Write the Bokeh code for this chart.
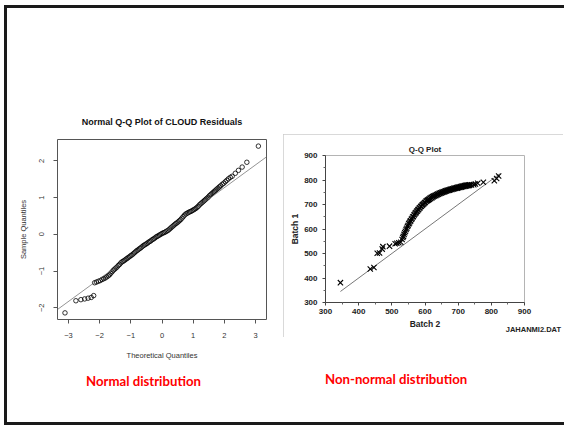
from bokeh.plotting import figure
from bokeh.models import FixedTicker, Slope, Div, Spacer
from bokeh.layouts import column, row
from bokeh.embed import file_html
from bokeh.resources import INLINE

# ---------------- Left chart: Normal Q-Q plot of CLOUD residuals ----------------
normal_theoretical = [
    -3.11, -2.76, -2.60, -2.48, -2.37, -2.27, -2.19,
    -2.16, -2.10, -2.04, -1.98, -1.92, -1.87, -1.82, -1.77, -1.72, -1.68,
    -1.64, -1.60, -1.56, -1.52, -1.48, -1.44, -1.40, -1.36, -1.32, -1.28,
    -1.24, -1.20, -1.16, -1.12, -1.08, -1.04, -1.00, -0.96, -0.92, -0.88,
    -0.84, -0.80, -0.76, -0.72, -0.68, -0.64, -0.60, -0.56, -0.52, -0.48,
    -0.44, -0.40, -0.36, -0.32, -0.28, -0.24, -0.20, -0.16, -0.12, -0.08,
    -0.04, 0.00, 0.04, 0.08, 0.12, 0.16, 0.20, 0.24, 0.28, 0.32, 0.36,
    0.40, 0.44, 0.48, 0.52, 0.56, 0.60, 0.64, 0.68, 0.72, 0.76, 0.80,
    0.84, 0.88, 0.92, 0.96, 1.00, 1.04, 1.08, 1.12, 1.16, 1.20, 1.24,
    1.28, 1.32, 1.36, 1.40, 1.44, 1.48, 1.52, 1.56, 1.60, 1.64, 1.68,
    1.72, 1.76, 1.80, 1.84, 1.88, 1.93, 1.98,
    2.03, 2.08, 2.13, 2.19, 2.25, 2.35, 2.45, 2.57, 2.72, 3.09,
]
normal_sample = [
    -2.14, -1.81, -1.78, -1.76, -1.74, -1.72, -1.67,
    -1.32, -1.30, -1.28, -1.26, -1.23, -1.21, -1.19, -1.16, -1.13, -1.10,
    -1.06, -1.02, -0.98, -0.95, -0.92, -0.89, -0.85, -0.82, -0.78, -0.75,
    -0.73, -0.71, -0.68, -0.66, -0.63, -0.61, -0.58, -0.56, -0.53, -0.50,
    -0.47, -0.44, -0.42, -0.39, -0.37, -0.34, -0.31, -0.29, -0.27, -0.25,
    -0.22, -0.20, -0.18, -0.15, -0.13, -0.11, -0.08, -0.06, -0.04, -0.02,
    0.00, 0.02, 0.04, 0.05, 0.07, 0.09, 0.11, 0.14, 0.17, 0.20, 0.23,
    0.26, 0.29, 0.31, 0.34, 0.37, 0.40, 0.44, 0.48, 0.52, 0.55, 0.57,
    0.59, 0.61, 0.62, 0.64, 0.66, 0.68, 0.70, 0.73, 0.76, 0.80, 0.83,
    0.86, 0.89, 0.92, 0.95, 0.98, 1.01, 1.05, 1.08, 1.11, 1.14, 1.17,
    1.20, 1.23, 1.26, 1.29, 1.32, 1.36, 1.39,
    1.43, 1.47, 1.51, 1.55, 1.58, 1.66, 1.74, 1.83, 1.96, 2.40,
]
normal_xticks = [-3, -2, -1, 0, 1, 2, 3]
normal_yticks = [-2, -1, 0, 1, 2]
qqline_gradient = 0.62
qqline_intercept = 0.03

# ---------------- Right chart: Q-Q plot Batch 1 vs Batch 2 ----------------
batch2 = [
    345, 435, 446, 456, 463, 471, 473, 493, 510, 515, 521, 527,
    531, 533, 535, 537, 539, 541, 543, 545, 547, 549, 551, 553, 555, 557,
    559, 561, 563, 565, 567, 569, 571, 573, 575, 577, 579, 581, 583, 585,
    587, 589, 591, 593, 595, 597, 599, 601, 603, 605, 607, 609, 611, 613,
    615, 617, 619, 621, 623, 625, 627, 629, 631, 633, 635, 637, 639, 641,
    643, 645, 647, 649, 651, 653, 655, 657, 659, 661, 663, 665, 667, 669,
    671, 673, 675, 677, 679, 681, 683, 685, 687, 689, 691, 693, 695, 697,
    699, 701, 703, 705, 707, 709, 711, 713, 715, 717, 719, 721, 723, 725,
    727, 729, 731, 733, 735,
    740, 747, 752, 759, 776, 809, 816, 822,
]
batch1 = [
    381, 437, 443, 501, 502, 518, 528, 530, 540, 542, 544, 546,
    557, 565, 570, 578, 585, 591, 598, 603, 610, 614, 621, 625, 631, 634,
    640, 643, 649, 651, 657, 660, 665, 667, 672, 674, 679, 680, 686, 687,
    692, 693, 697, 699, 702, 704, 708, 708, 713, 714, 717, 718, 721, 721,
    725, 725, 729, 728, 732, 732, 735, 735, 738, 737, 741, 740, 743, 742,
    746, 745, 748, 747, 750, 749, 752, 751, 754, 753, 756, 755, 758, 757,
    759, 758, 761, 760, 763, 761, 764, 763, 766, 764, 767, 766, 769, 767,
    770, 769, 771, 770, 773, 771, 774, 773, 775, 774, 777, 775, 778, 776,
    779, 777, 779, 778, 780,
    780, 781, 784, 787, 791, 797, 806, 816,
]
ref_line_x = [345, 825]
ref_line_y = [345, 825]
batch_ticks = [300, 400, 500, 600, 700, 800, 900]
batch_minor_ticks = [350, 450, 550, 650, 750, 850]

SANS = "Liberation Sans"

# ---------------- Left figure ----------------
p1 = figure(width=274, height=354, x_range=(-3.35, 3.35), y_range=(-2.32, 2.58),
            output_backend="svg", toolbar_location=None,
            min_border_left=50, min_border_right=15, min_border_top=131, min_border_bottom=42,
            title="Normal Q-Q Plot of CLOUD Residuals")
p1.title.align = "center"
p1.title.text_font = SANS
p1.title.text_font_size = "9px"
p1.title.text_font_style = "bold"
p1.title.text_color = "#111111"
p1.title.standoff = 26
p1.xgrid.visible = False
p1.ygrid.visible = False
p1.outline_line_color = "#555555"
p1.outline_line_width = 1
p1.xaxis.ticker = FixedTicker(ticks=normal_xticks)
p1.yaxis.ticker = FixedTicker(ticks=normal_yticks)
p1.xaxis.axis_label = "Theoretical Quantiles"
p1.yaxis.axis_label = "Sample Quantiles"
for ax in (p1.xaxis[0], p1.yaxis[0]):
    ax.axis_line_color = None
    ax.major_tick_out = 4
    ax.major_tick_in = 0
    ax.minor_tick_out = 0
    ax.minor_tick_in = 0
    ax.major_tick_line_color = "#555555"
    ax.major_label_text_font = SANS
    ax.major_label_text_font_size = "7.5px"
    ax.major_label_text_color = "#333333"
    ax.axis_label_text_font = SANS
    ax.axis_label_text_font_size = "7.5px"
    ax.axis_label_text_font_style = "normal"
    ax.axis_label_text_color = "#333333"
p1.xaxis.major_label_standoff = 9
p1.xaxis.axis_label_standoff = 10
p1.yaxis.major_label_standoff = 9
p1.yaxis.major_label_orientation = "parallel"
p1.yaxis.axis_label_standoff = 9

p1.scatter(normal_theoretical, normal_sample, marker="circle", size=4.5,
           fill_color=None, line_color="black", line_width=0.8)
p1.add_layout(Slope(gradient=qqline_gradient, y_intercept=qqline_intercept,
                    line_color="#666666", line_width=0.7))

# ---------------- Right figure ----------------
p2 = figure(width=280, height=203, x_range=(300, 900), y_range=(300, 900),
            output_backend="svg", toolbar_location=None,
            min_border_left=42, min_border_right=39, min_border_top=21, min_border_bottom=35,
            title="Q-Q Plot",
            styles={"outline": "2px solid #cccccc", "outline-offset": "-2px"})
p2.title.align = "center"
p2.title.text_font = SANS
p2.title.text_font_size = "8px"
p2.title.text_font_style = "bold"
p2.title.text_color = "#222222"
p2.title.standoff = 3
p2.xgrid.visible = False
p2.ygrid.visible = False
p2.outline_line_color = "#b4b4b4"
p2.xaxis.ticker = FixedTicker(ticks=batch_ticks, minor_ticks=batch_minor_ticks)
p2.yaxis.ticker = FixedTicker(ticks=batch_ticks, minor_ticks=batch_minor_ticks)
p2.xaxis.axis_label = "Batch 2"
p2.yaxis.axis_label = "Batch 1"
for ax in (p2.xaxis[0], p2.yaxis[0]):
    ax.axis_line_color = "#444444"
    ax.major_tick_out = 3
    ax.major_tick_in = 0
    ax.minor_tick_out = 2
    ax.minor_tick_in = 0
    ax.major_tick_line_color = "#444444"
    ax.minor_tick_line_color = "#666666"
    ax.major_label_text_font = SANS
    ax.major_label_text_font_size = "8px"
    ax.major_label_text_font_style = "bold"
    ax.major_label_text_color = "#222222"
    ax.axis_label_text_font = SANS
    ax.axis_label_text_font_size = "8.5px"
    ax.axis_label_text_font_style = "bold"
    ax.axis_label_text_color = "#222222"
p2.xaxis.major_label_standoff = 3
p2.xaxis.axis_label_standoff = 2
p2.yaxis.major_label_standoff = 5
p2.yaxis.axis_label_standoff = 1

p2.line(ref_line_x, ref_line_y, line_color="#777777", line_width=1)
p2.scatter(batch2, batch1, marker="x", size=7.5, line_color="black", line_width=1.1)

# data-file caption inside the grey box (overlaps the bottom of the figure box)
file_caption = Div(text="JAHANMI2.DAT", width=280, height=12, margin=(-13, 0, 0, 0),
                   styles={"font-family": SANS, "font-weight": "bold", "font-size": "7.5px",
                           "color": "#222222", "line-height": "12px", "text-align": "right",
                           "padding-right": "2px", "box-sizing": "border-box",
                           "white-space": "nowrap"})

# ---------------- Slide texts ----------------
red_style = {"font-family": "Lato", "font-weight": "bold", "font-size": "13.2px",
             "color": "#ff0000", "line-height": "20px", "margin": "0", "white-space": "nowrap"}
div_left = Div(text="Normal distribution", width=160, height=20, styles=red_style)
div_right = Div(text="Non-normal distribution", width=180, height=20, styles=red_style)

bar_style = {"background-color": "#1a1a1a", "margin": "0"}
left_bar = Div(text="", width=3, height=420, styles=bar_style)
top_bar = Div(text="", width=557, height=3, styles=bar_style)
bottom_bar = Div(text="", width=557, height=3, styles=bar_style)

top_row = row(p1, Spacer(width=2, height=354),
              column(Spacer(width=280, height=126), p2, file_caption))
bottom_row = row(Spacer(width=79, height=60),
                 column(Spacer(width=160, height=9), div_left),
                 Spacer(width=79, height=60),
                 column(Spacer(width=180, height=7), div_right))
content = column(top_bar, top_row, bottom_row, bottom_bar)
layout = column(Spacer(width=564, height=5),
                row(Spacer(width=4, height=420), left_bar, content))

open("out.html", "w").write(file_html(layout, INLINE))
